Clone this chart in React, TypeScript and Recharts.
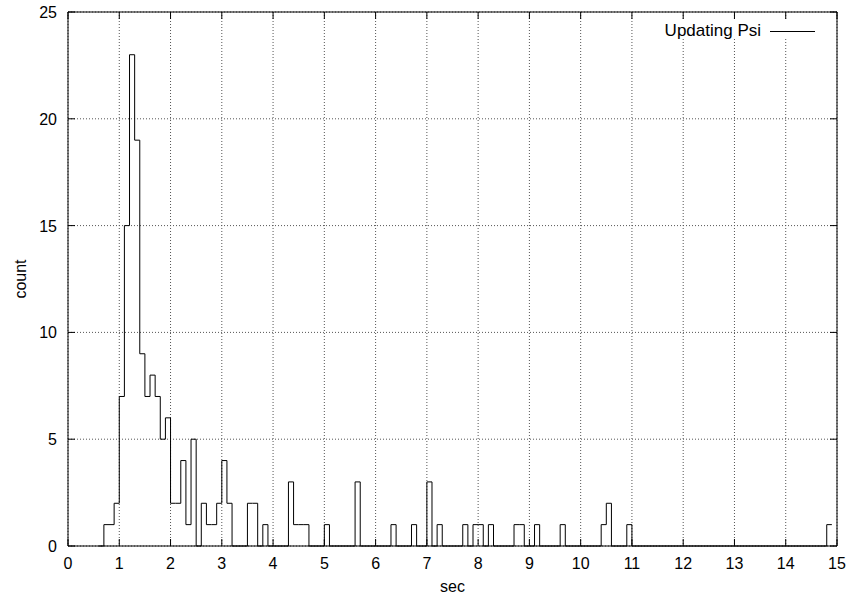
import {
  CartesianGrid,
  Label,
  Legend,
  Line,
  LineChart,
  ReferenceArea,
  XAxis,
  YAxis,
} from "recharts";

// histogram counts, one value per 0.1 s bin, first bin starts at 0.6 s
const binStart = 0.6;
const binWidth = 0.1;
const counts = [
  0, 1, 1, 2, // 0.6 - 0.9
  7, 15, 23, 19, 9, 7, 8, 7, 5, 6, // 1.x
  2, 2, 4, 1, 5, 0, 2, 1, 1, 2, // 2.x
  4, 2, 0, 0, 0, 2, 2, 0, 1, 0, // 3.x
  0, 0, 0, 3, 1, 1, 1, 0, 0, 0, // 4.x
  1, 0, 0, 0, 0, 0, 3, 0, 0, 0, // 5.x
  0, 0, 0, 1, 0, 0, 0, 1, 0, 0, // 6.x
  3, 0, 1, 0, 0, 0, 0, 1, 0, 1, // 7.x
  1, 0, 1, 0, 0, 0, 0, 1, 1, 0, // 8.x
  0, 1, 0, 0, 0, 0, 1, 0, 0, 0, // 9.x
  0, 0, 0, 0, 1, 2, 0, 0, 0, 1, // 10.x
  0, 0, 0, 0, 0, 0, 0, 0, 0, 0, // 11.x
  0, 0, 0, 0, 0, 0, 0, 0, 0, 0, // 12.x
  0, 0, 0, 0, 0, 0, 0, 0, 0, 0, // 13.x
  0, 0, 0, 0, 0, 0, 0, 0, 1, 1, // 14.x
];

const xTicks = [0, 1, 2, 3, 4, 5, 6, 7, 8, 9, 10, 11, 12, 13, 14, 15];
const yTicks = [0, 5, 10, 15, 20, 25];
const seriesName = "Updating Psi";

const data = counts.map((count, i) => ({
  sec: Math.round((binStart + i * binWidth) * 10) / 10,
  count,
}));

const W = 847;
const H = 598;
const PLOT_LEFT = 68;
const PLOT_RIGHT = 837;
const PLOT_TOP = 12;
const PLOT_BOTTOM = 546;
const TICK_LEN = 7;
const FONT = "'Liberation Sans', Arial, Helvetica, sans-serif";

const XTick = (props: any) => {
  const { x, payload } = props;
  return (
    <g>
      <line x1={x} x2={x} y1={PLOT_BOTTOM} y2={PLOT_BOTTOM - TICK_LEN} stroke="#000" />
      <line x1={x} x2={x} y1={PLOT_TOP} y2={PLOT_TOP + TICK_LEN} stroke="#000" />
      <text x={x} y={PLOT_BOTTOM + 23} textAnchor="middle" fontSize={16} fill="#000">
        {payload.value}
      </text>
    </g>
  );
};

const YTick = (props: any) => {
  const { y, payload } = props;
  return (
    <g>
      <line x1={PLOT_LEFT} x2={PLOT_LEFT + TICK_LEN} y1={y} y2={y} stroke="#000" />
      <line x1={PLOT_RIGHT} x2={PLOT_RIGHT - TICK_LEN} y1={y} y2={y} stroke="#000" />
      <text x={PLOT_LEFT - 11} y={y + 6} textAnchor="end" fontSize={16} fill="#000">
        {payload.value}
      </text>
    </g>
  );
};

// gnuplot clears the key area, so the grid stops under the legend
const renderLegend = () => (
  <div style={{ position: "relative", height: 20, fontSize: 17, fontFamily: FONT }}>
    <div
      style={{
        position: "absolute",
        left: 652,
        width: 178,
        top: 0,
        height: 18,
        background: "#fff",
      }}
    />
    <span style={{ position: "absolute", right: W - 761, top: 0, lineHeight: "20px" }}>
      {seriesName}
    </span>
    <span
      style={{
        position: "absolute",
        left: 770,
        width: 45,
        top: 10,
        borderTop: "1px solid #000",
      }}
    />
  </div>
);

export default function App() {
  return (
    <div style={{ position: "absolute", left: 0, top: 0, width: W, height: H, background: "#fff", fontFamily: FONT }}>
      <LineChart
        width={W}
        height={H}
        data={data}
        margin={{ top: PLOT_TOP, right: W - PLOT_RIGHT, bottom: 0, left: 0 }}
      >
        <CartesianGrid stroke="#555" strokeDasharray="1 2" />
        <XAxis
          dataKey="sec"
          type="number"
          domain={[0, 15]}
          ticks={xTicks}
          height={H - PLOT_BOTTOM}
          axisLine={false}
          tickLine={false}
          tickSize={0}
          tick={<XTick />}
          interval={0}
        >
          <Label value="sec" position="insideBottom" offset={6} fontSize={16} fill="#000" />
        </XAxis>
        <YAxis
          type="number"
          domain={[0, 25]}
          ticks={yTicks}
          width={PLOT_LEFT}
          axisLine={false}
          tickLine={false}
          tickSize={0}
          tick={<YTick />}
          interval={0}
        >
          <Label
            content={() => (
              <text
                x={20}
                y={(PLOT_TOP + PLOT_BOTTOM) / 2}
                transform={`rotate(-90 20 ${(PLOT_TOP + PLOT_BOTTOM) / 2})`}
                textAnchor="middle"
                dominantBaseline="central"
                fontSize={16}
                fill="#000"
              >
                count
              </text>
            )}
          />
        </YAxis>
        <ReferenceArea x1={0} x2={15} y1={0} y2={25} fill="none" stroke="#000" strokeWidth={1} />
        <Line
          type="stepAfter"
          dataKey="count"
          name={seriesName}
          stroke="#000"
          strokeWidth={1}
          dot={false}
          activeDot={false}
          isAnimationActive={false}
        />
        <Legend
          layout="vertical"
          align="center"
          verticalAlign="middle"
          content={renderLegend}
          wrapperStyle={{ top: 21, left: 0, width: W }}
        />
      </LineChart>
    </div>
  );
}
